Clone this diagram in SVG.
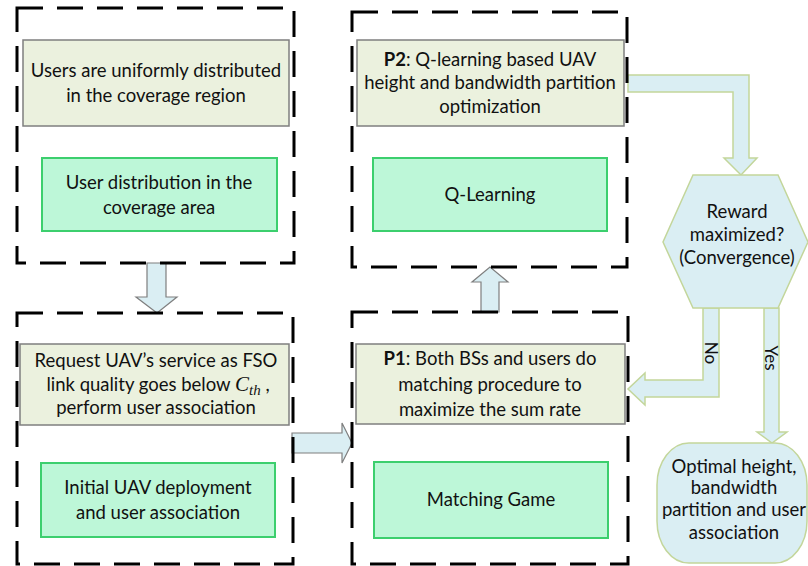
<svg xmlns="http://www.w3.org/2000/svg" width="808" height="566" viewBox="0 0 808 566">
  <style>
    .txt { font-family: Lato, "Open Sans", "Liberation Sans", sans-serif; font-size: 18.5px; fill: #111; text-anchor: middle; }
    .b { font-weight: bold; }
    .tan { fill: #ebf1de; stroke: #7f7f7f; stroke-width: 1.5; }
    .grn { fill: #bdf7d8; stroke: #3ccf6e; stroke-width: 2; }
    .frame { fill: none; stroke: #000; stroke-width: 3; stroke-dasharray: 26 14; }
    .arrG { fill: #daeef3; stroke: #7f7f7f; stroke-width: 1.2; }
    .arrL { fill: #daeef3; stroke: #c3d69b; stroke-width: 1.5; }
    .dec { fill: #daeef3; stroke: #c3d69b; stroke-width: 1.5; }
    .lbl { font-size: 17px; }
  </style>

  <!-- connectors -->
  <g id="connectors">
    <polygon class="arrG" points="147,263 166,263 166,297 177,297 157,313 136,297 147,297"/>
    <polygon class="arrG" points="481,312 499,312 499,282 508,282 490,267 472,282 481,282"/>
    <polygon class="arrG" points="292,433 342,433 342,423 352,443 342,463 342,453 292,453"/>
    <polygon class="arrL" points="628,75 749,75 749,158 757,158 741,175 724,158 733,158 733,92 628,92"/>
    <polygon class="arrL" points="703,308 719,308 719,397 645,397 645,405 628,389 645,373 645,380 703,380"/>
    <polygon class="arrL" points="764,308 779,308 779,432 787,432 772,443 757,432 764,432"/>
    <text class="txt lbl" transform="translate(711,353) rotate(90)" dy="6">No</text>
    <text class="txt lbl" transform="translate(771,358) rotate(90)" dy="6">Yes</text>
  </g>

  <!-- stage 1: user distribution -->
  <g id="stage-distribution">
    <rect class="tan" x="23" y="40" width="266" height="86"/>
    <text class="txt" x="156" y="77">Users are uniformly distributed</text>
    <text class="txt" x="156" y="102">in the coverage region</text>
    <rect class="grn" x="42" y="158" width="235" height="73"/>
    <text class="txt" x="159" y="189">User distribution in the</text>
    <text class="txt" x="159" y="214">coverage area</text>
    <rect class="frame" x="17" y="8" width="277" height="255"/>
  </g>

  <!-- stage 2: initial deployment -->
  <g id="stage-deployment">
    <rect class="tan" x="20" y="344" width="269" height="81"/>
    <text class="txt" x="156" y="367">Request UAV’s service as FSO</text>
    <text class="txt" x="158" y="391"><tspan>link quality goes below </tspan><tspan style="font-family:'Liberation Serif',serif;font-style:italic;font-size:21px">C</tspan><tspan style="font-family:'Liberation Serif',serif;font-style:italic;font-size:15px" dy="4">th</tspan><tspan dy="-4">  ,</tspan></text>
    <text class="txt" x="156" y="414">perform user association</text>
    <rect class="grn" x="41" y="463" width="234" height="74"/>
    <text class="txt" x="158" y="494">Initial UAV deployment</text>
    <text class="txt" x="158" y="519">and  user association</text>
    <rect class="frame" x="17" y="313" width="276" height="251"/>
  </g>

  <!-- stage 3: P1 matching -->
  <g id="stage-matching">
    <rect class="tan" x="356" y="344" width="269" height="80"/>
    <text class="txt" x="490" y="365"><tspan class="b">P1</tspan>: Both BSs and users do</text>
    <text class="txt" x="490" y="391">matching procedure to</text>
    <text class="txt" x="490" y="416">maximize the sum rate</text>
    <rect class="grn" x="374" y="462" width="234" height="76"/>
    <text class="txt" x="491" y="506">Matching Game</text>
    <rect class="frame" x="352" y="312" width="276" height="252"/>
  </g>

  <!-- stage 4: P2 Q-learning -->
  <g id="stage-qlearning">
    <rect class="tan" x="357" y="40" width="267" height="86"/>
    <text class="txt" x="490" y="66"><tspan class="b">P2</tspan>: Q-learning based UAV</text>
    <text class="txt" x="490" y="89">height and bandwidth partition</text>
    <text class="txt" x="490" y="113">optimization</text>
    <rect class="grn" x="373" y="158" width="234" height="73"/>
    <text class="txt" x="490" y="201">Q-Learning</text>
    <rect class="frame" x="352" y="12" width="275" height="255"/>
  </g>

  <!-- decision -->
  <g id="decision">
    <polygon class="dec" points="693,175 778,175 808,242 778,308 693,308 663,242"/>
    <text class="txt" x="737" y="218">Reward</text>
    <text class="txt" x="737" y="241">maximized?</text>
    <text class="txt" x="737" y="264">(Convergence)</text>
  </g>

  <!-- result -->
  <g id="result">
    <rect class="dec" x="657" y="443" width="150" height="120" rx="32" ry="42"/>
    <text class="txt" x="734" y="473">Optimal height,</text>
    <text class="txt" x="734" y="494">bandwidth</text>
    <text class="txt" x="734" y="516">partition and user</text>
    <text class="txt" x="734" y="539">association</text>
  </g>
</svg>
